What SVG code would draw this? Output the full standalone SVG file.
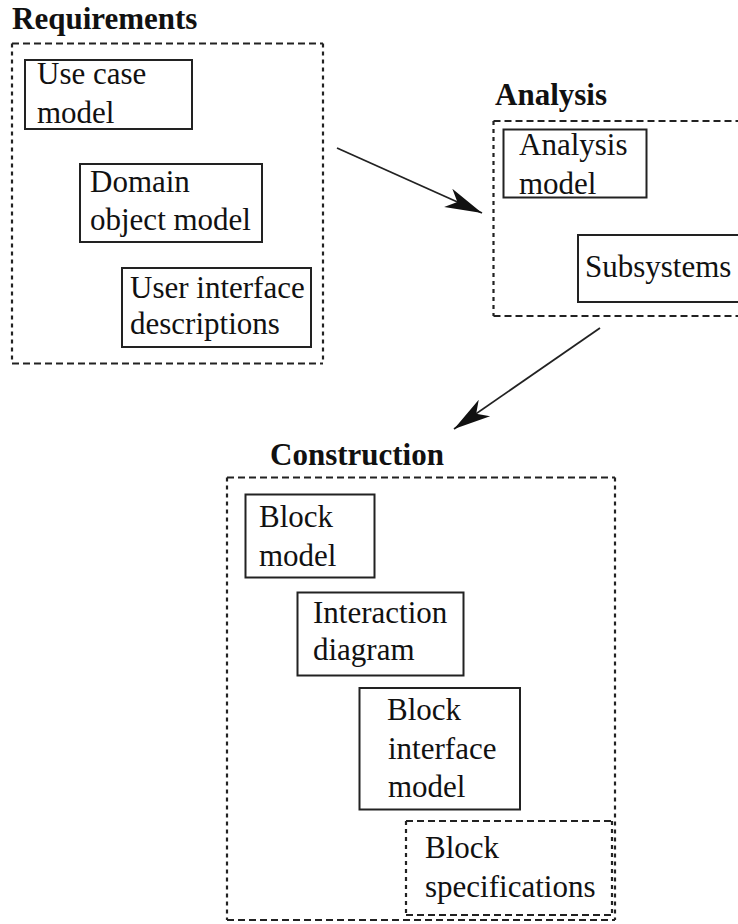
<svg xmlns="http://www.w3.org/2000/svg" width="738" height="924" viewBox="0 0 738 924">
  <style>
    .bg { fill: #ffffff; }
    .title { font-family: "Liberation Serif", "Times New Roman", serif; font-weight: bold; font-size: 31px; fill: #111111; }
    .label { font-family: "Liberation Serif", "Times New Roman", serif; font-size: 31px; fill: #111111; }
    .box { fill: none; stroke: #222222; stroke-width: 2; }
    .dash-h { fill: none; stroke: #222222; stroke-width: 2; stroke-dasharray: 7 4; }
    .dash-v { fill: none; stroke: #222222; stroke-width: 2.2; stroke-dasharray: 4 4; }
    .edge { fill: none; stroke: #222222; stroke-width: 1.8; }
  </style>
  <defs>
    <marker id="stealth" viewBox="0 -12 38 24" markerWidth="38" markerHeight="24" refX="37" refY="0" orient="auto" markerUnits="userSpaceOnUse">
      <path d="M37,0 L0,-10 L10,0 L0,10 Z" fill="#111111"/>
    </marker>
  </defs>
  <rect class="bg" x="0" y="0" width="738" height="924"/>

  <!-- Requirements container -->
  <g id="requirements">
    <text class="title" x="12" y="29">Requirements</text>
    <path class="dash-h" d="M12,43.5 H323 M12,363.5 H323"/>
    <path class="dash-v" d="M12,43.5 V363.5 M323,43.5 V363.5"/>
  </g>
  <g id="use-case-model">
    <rect class="box" x="25" y="60" width="167" height="69"/>
    <text class="label" x="37" y="84">Use case</text>
    <text class="label" x="37" y="123">model</text>
  </g>
  <g id="domain-object-model">
    <rect class="box" x="80" y="164" width="182" height="78"/>
    <text class="label" x="90" y="192">Domain</text>
    <text class="label" x="90" y="230">object model</text>
  </g>
  <g id="user-interface-descriptions">
    <rect class="box" x="122" y="268" width="189" height="79"/>
    <text class="label" x="130" y="298">User interface</text>
    <text class="label" x="130" y="334">descriptions</text>
  </g>

  <!-- Analysis container -->
  <g id="analysis">
    <text class="title" x="495" y="105">Analysis</text>
    <path class="dash-h" d="M493.5,121 H745 M493.5,316 H745"/>
    <path class="dash-v" d="M493.5,121 V316"/>
  </g>
  <g id="analysis-model">
    <rect class="box" x="503.5" y="129.5" width="143" height="68"/>
    <text class="label" x="519" y="155">Analysis</text>
    <text class="label" x="519" y="194">model</text>
  </g>
  <g id="subsystems">
    <rect class="box" x="578" y="235" width="170" height="67"/>
    <text class="label" x="585" y="277">Subsystems</text>
  </g>

  <!-- Construction container -->
  <g id="construction">
    <text class="title" x="270" y="465">Construction</text>
    <path class="dash-h" d="M227,477.5 H615 M227,920 H615"/>
    <path class="dash-v" d="M227,477.5 V920 M615,477.5 V920"/>
  </g>
  <g id="block-model">
    <rect class="box" x="245.5" y="494.5" width="129" height="83"/>
    <text class="label" x="259" y="527">Block</text>
    <text class="label" x="259" y="566">model</text>
  </g>
  <g id="interaction-diagram">
    <rect class="box" x="297.5" y="592.5" width="166" height="83"/>
    <text class="label" x="313" y="623">Interaction</text>
    <text class="label" x="313" y="660">diagram</text>
  </g>
  <g id="block-interface-model">
    <rect class="box" x="359.5" y="688" width="160.5" height="121.5"/>
    <text class="label" x="387" y="720">Block</text>
    <text class="label" x="388" y="759">interface</text>
    <text class="label" x="388" y="797">model</text>
  </g>
  <g id="block-specifications">
    <path class="dash-h" d="M406,821 H612 M406,915 H612"/>
    <path class="dash-v" d="M406,821 V915 M612,821 V915"/>
    <text class="label" x="425" y="858">Block</text>
    <text class="label" x="425" y="897">specifications</text>
  </g>

  <!-- Flow between the stages -->
  <g id="connectors">
    <line class="edge" x1="337" y1="148" x2="482" y2="213" marker-end="url(#stealth)"/>
    <line class="edge" x1="600" y1="328" x2="454" y2="429" marker-end="url(#stealth)"/>
  </g>
</svg>
